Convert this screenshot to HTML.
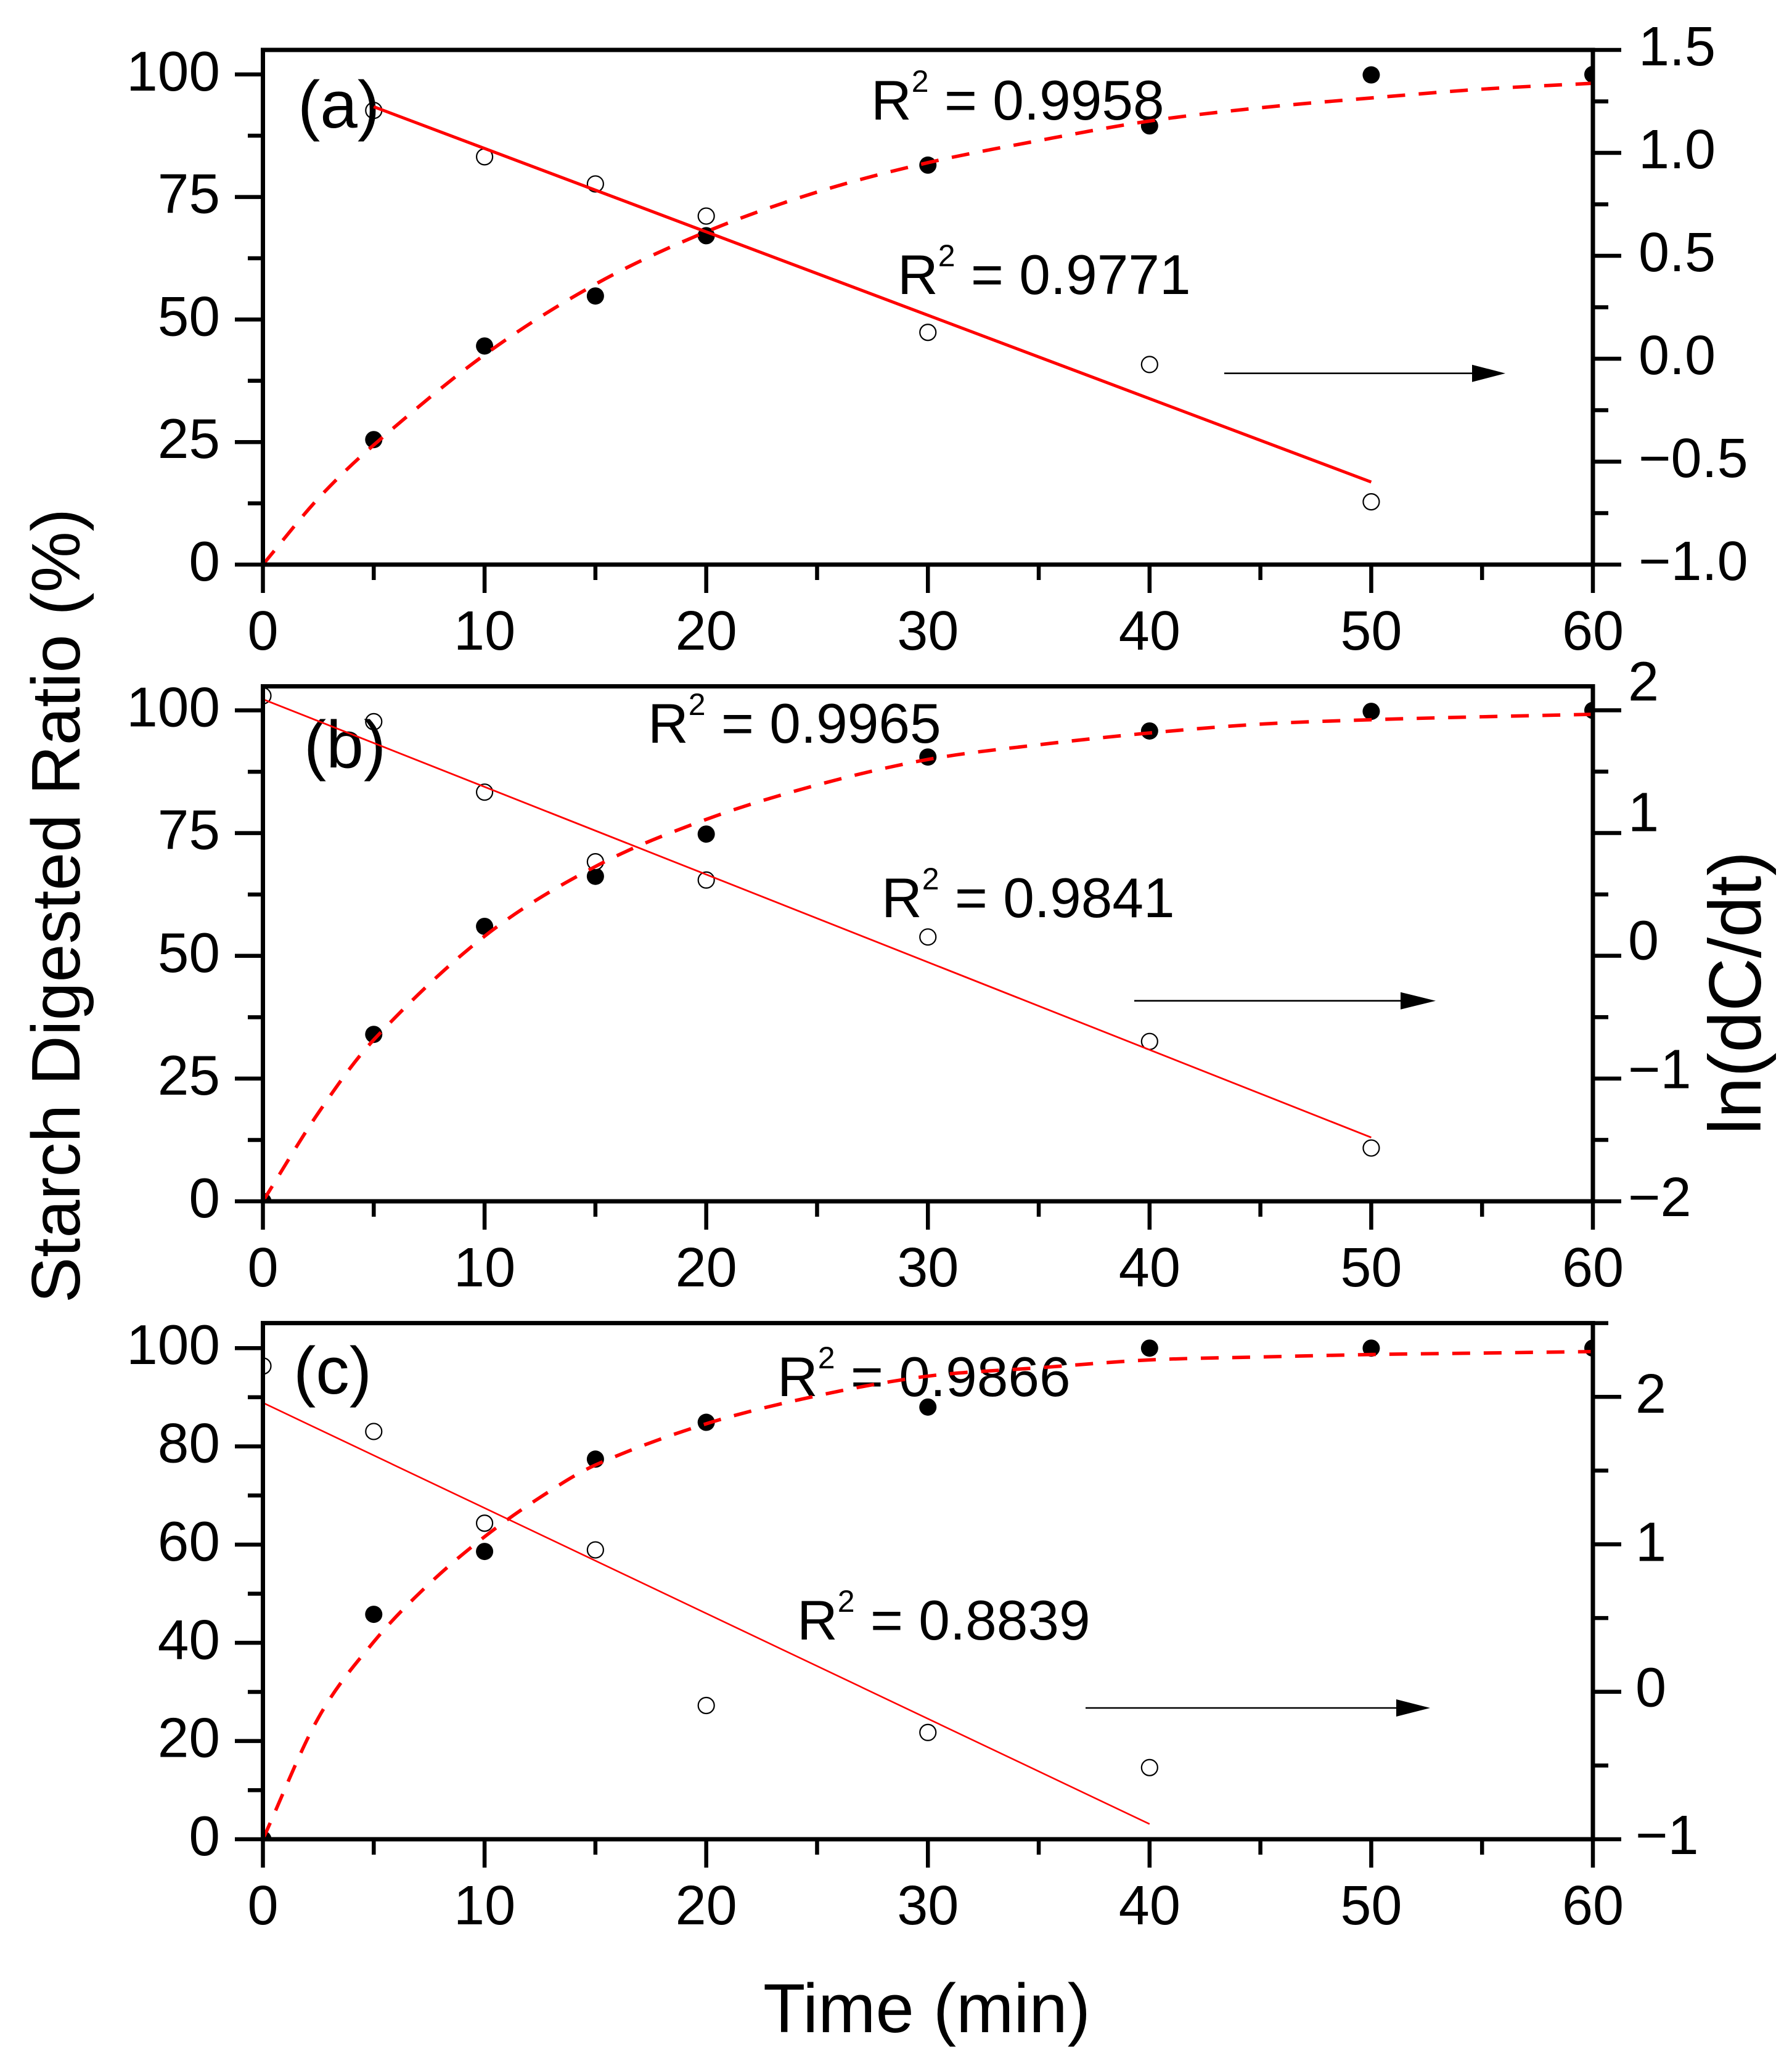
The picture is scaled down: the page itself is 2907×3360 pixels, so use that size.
<!DOCTYPE html>
<html lang="en">
<head>
<meta charset="utf-8">
<title>Starch digestion kinetics</title>
<style>
html,body{margin:0;padding:0;background:#fff;}
svg{display:block;}
text{font-family:"Liberation Sans",Arial,sans-serif;fill:#000;}
</style>
</head>
<body>
<svg id="figure" xmlns="http://www.w3.org/2000/svg" width="2907" height="3360" viewBox="0 0 2907 3360">
  <rect x="0" y="0" width="2907" height="3360" fill="#fff"/>
  <defs>
    <clipPath id="clip-a"><rect x="426" y="80" width="2158" height="836"/></clipPath>
    <clipPath id="clip-b"><rect x="426" y="1113" width="2158" height="836"/></clipPath>
    <clipPath id="clip-c"><rect x="426" y="2146" width="2158" height="838"/></clipPath>
  </defs>
  <g id="panel-a"></g>
  <g id="panel-b"></g>
  <g id="panel-c"></g>
  <text transform="translate(129 2114) rotate(-90)" font-size="111.5">Starch Digested Ratio (%)</text>
  <text transform="translate(2856 1841) rotate(-90)" font-size="120">ln(dC/dt)</text>
  <text x="1238" y="3297" font-size="112">Time (min)</text>
</svg>
<script>
// ---------- shared ticks ----------
const xTickValues = [0, 10, 20, 30, 40, 50, 60];
const xMinorValues = [5, 15, 25, 35, 45, 55];

// ---------- panel (a) ----------
const aDigestedTimes = [5, 10, 15, 20, 30, 40, 50, 60];
const aDigestedValues = [25.5, 44.6, 54.8, 67.1, 81.5, 89.5, 99.9, 100];
const aLnTimes = [5, 10, 15, 20, 30, 40, 50];
const aLnValues = [1.206, 0.981, 0.849, 0.693, 0.128, -0.028, -0.695];
const aFitTimes = [5, 50];
const aFitValues = [1.224, -0.599];
const aCurveTimes = [0, 2.5, 5, 10, 15, 20, 25, 30, 35, 40, 45, 50, 55, 60];
const aCurveValues = [0, 13.5, 24.4, 42.8, 57.2, 67.9, 76, 82, 86.5, 90.5, 93.2, 95.2, 97, 98.2];
const aLeftTicks = [0, 25, 50, 75, 100];
const aLeftMinor = [12.5, 37.5, 62.5, 87.5];
const aRightTicks = [-1, -0.5, 0, 0.5, 1, 1.5];
const aRightLabels = ['\u22121.0', '\u22120.5', '0.0', '0.5', '1.0', '1.5'];
const aRightMinor = [-0.75, -0.25, 0.25, 0.75, 1.25];

// ---------- panel (b) ----------
const bDigestedTimes = [0, 5, 10, 15, 20, 30, 40, 50, 60];
const bDigestedValues = [0, 34, 56, 66.2, 74.8, 90.5, 95.8, 99.8, 100];
const bLnTimes = [0, 5, 10, 15, 20, 30, 40, 50];
const bLnValues = [2.118, 1.907, 1.333, 0.766, 0.617, 0.153, -0.698, -1.566];
const bFitTimes = [0, 50];
const bFitValues = [2.09, -1.48];
const bCurveTimes = [0, 2.5, 5, 10, 15, 20, 25, 30, 35, 40, 45, 50, 55, 60];
const bCurveValues = [0, 18, 32.9, 54, 68.2, 77.8, 84.8, 90, 93, 95.4, 97.2, 98.1, 98.7, 99.2];
const bLeftTicks = [0, 25, 50, 75, 100];
const bLeftMinor = [12.5, 37.5, 62.5, 87.5];
const bRightTicks = [-2, -1, 0, 1, 2];
const bRightLabels = ['\u22122', '\u22121', '0', '1', '2'];
const bRightMinor = [-1.5, -0.5, 0.5, 1.5];

// ---------- panel (c) ----------
const cDigestedTimes = [0, 5, 10, 15, 20, 30, 40, 50, 60];
const cDigestedValues = [0, 45.8, 58.6, 77.4, 84.9, 88, 100, 100, 100];
const cLnTimes = [0, 5, 10, 15, 20, 30, 40];
const cLnValues = [2.209, 1.765, 1.143, 0.962, -0.093, -0.276, -0.514];
const cFitTimes = [0, 40];
const cFitValues = [1.96, -0.897];
const cCurveTimes = [0, 2.5, 5, 7.5, 10, 12.5, 15, 20, 25, 30, 35, 40, 45, 50, 55, 60];
const cCurveValues = [0, 24.7, 40.2, 52, 61.6, 69.6, 76.2, 84.6, 90.3, 94.3, 96, 97.6, 98.2, 98.7, 99, 99.3];
const cLeftTicks = [0, 20, 40, 60, 80, 100];
const cLeftMinor = [10, 30, 50, 70, 90];
const cRightTicks = [-1, 0, 1, 2];
const cRightLabels = ['\u22121', '0', '1', '2'];
const cRightMinor = [-0.5, 0.5, 1.5, 2.5];

// ---------- annotation text ----------
const aFitR2 = '0.9771';
const aCurveR2 = '0.9958';
const bFitR2 = '0.9841';
const bCurveR2 = '0.9965';
const cFitR2 = '0.8839';
const cCurveR2 = '0.9866';

const NS = 'http://www.w3.org/2000/svg';
function make(parent, tag, props) {
  const node = document.createElementNS(NS, tag);
  for (const key in props) node.setAttribute(key, props[key]);
  parent.appendChild(node);
  return node;
}
function linearScale(d0, d1, r0, r1) {
  return function (v) { return r0 + (v - d0) * (r1 - r0) / (d1 - d0); };
}
function splinePath(xs, ys) {
  const n = xs.length;
  const slope = xs.map(function (x, i) {
    const a = Math.max(i - 1, 0), b = Math.min(i + 1, n - 1);
    return (ys[b] - ys[a]) / (xs[b] - xs[a]);
  });
  let d = 'M' + xs[0] + ' ' + ys[0];
  for (let i = 0; i < n - 1; i++) {
    const h = (xs[i + 1] - xs[i]) / 3;
    d += 'C' + (xs[i] + h) + ' ' + (ys[i] + slope[i] * h) + ' ' + (xs[i + 1] - h) + ' ' + (ys[i + 1] - slope[i + 1] * h) + ' ' + xs[i + 1] + ' ' + ys[i + 1];
  }
  return d;
}

function drawPanel(cfg) {
  const g = document.getElementById(cfg.id);
  const L = 426.5, R = 2584, T = cfg.top, B = cfg.bottom;
  const xs = linearScale(0, 60, L, R);
  const yl = linearScale(cfg.leftDomain[0], cfg.leftDomain[1], B, T);
  const yr = linearScale(cfg.rightDomain[0], cfg.rightDomain[1], B, T);

  const marks = make(g, 'g', { 'clip-path': 'url(#' + cfg.clip + ')' });
  
  
  cfg.digestedTimes.forEach(function (t, i) {
    const dot = make(marks, 'circle', { cx: xs(t), cy: yl(cfg.digested[i]), r: 14, fill: '#000' });
    
    
  });
  cfg.lnTimes.forEach(function (t, i) {
    const ring = make(marks, 'circle', { cx: xs(t), cy: yr(cfg.ln[i]), r: 13, fill: '#fff', stroke: '#000', 'stroke-width': 2.2 });
    
    
  });

  function r2Label(x, y, value, name) {
    const t = make(g, 'text', { x: x, y: y, 'font-size': 91 });
    
    
    make(t, 'tspan', {}).textContent = 'R';
    make(t, 'tspan', { dy: -45, 'font-size': 50 }).textContent = '2';
    make(t, 'tspan', { dy: 45 }).textContent = ' = ' + value;
  }
  r2Label(cfg.curveR2Pos[0], cfg.curveR2Pos[1], cfg.curveR2, 'r-squared-curve');
  r2Label(cfg.fitR2Pos[0], cfg.fitR2Pos[1], cfg.fitR2, 'r-squared-fit');
  const tag = make(g, 'text', { x: cfg.tagPos[0], y: cfg.tagPos[1], 'font-size': 109 });
  tag.textContent = cfg.tag;
  
  

  const curve = make(g, 'path', {
    d: splinePath(cfg.curveTimes.map(xs), cfg.curve.map(yl)),
    fill: 'none', stroke: '#ff0000', 'stroke-width': 5.6, 'stroke-dasharray': '29 22', 'clip-path': 'url(#' + cfg.clip + ')'
  });
  
  
  const fit = make(g, 'line', {
    x1: xs(cfg.fitTimes[0]), y1: yr(cfg.fit[0]), x2: xs(cfg.fitTimes[1]), y2: yr(cfg.fit[1]),
    stroke: '#ff0000', 'stroke-width': cfg.fitWidth
  });
  
  

  const arrow = make(g, 'g', {});
  
  
  make(arrow, 'line', { x1: cfg.arrow[0], y1: cfg.arrow[3], x2: cfg.arrow[1], y2: cfg.arrow[3], stroke: '#000', 'stroke-width': 2.6 });
  make(arrow, 'polygon', { points: cfg.arrow[1] + ',' + (cfg.arrow[3] - 14) + ' ' + cfg.arrow[2] + ',' + cfg.arrow[3] + ' ' + cfg.arrow[1] + ',' + (cfg.arrow[3] + 14), fill: '#000' });

  const frame = make(g, 'rect', { x: L, y: T, width: R - L, height: B - T, fill: 'none', stroke: '#000', 'stroke-width': 7 });
  
  

  function tick(x1, y1, x2, y2, name) {
    const ln = make(g, 'line', { x1: x1, y1: y1, x2: x2, y2: y2, stroke: '#000', 'stroke-width': 6.5 });
    
    
  }
  xTickValues.forEach(function (v) {
    tick(xs(v), B, xs(v), B + 46, 'x-tick');
    const lab = make(g, 'text', { x: xs(v), y: B + 138, 'font-size': 90, 'text-anchor': 'middle' });
    lab.textContent = String(v);
    
    
  });
  xMinorValues.forEach(function (v) { tick(xs(v), B, xs(v), B + 25, 'x-minor-tick'); });
  cfg.leftTicks.forEach(function (v) {
    tick(L, yl(v), 381, yl(v), 'left-tick');
    const lab = make(g, 'text', { x: 357, y: yl(v) + 26, 'font-size': 91, 'text-anchor': 'end' });
    lab.textContent = String(v);
    
    
  });
  cfg.leftMinor.forEach(function (v) { tick(L, yl(v), 402, yl(v), 'left-minor-tick'); });
  cfg.rightTicks.forEach(function (v, i) {
    tick(R, yr(v), R + 46, yr(v), 'right-tick');
    const lab = make(g, 'text', { x: cfg.rightLabelX, y: yr(v) + cfg.rightLabelDy[i], 'font-size': 90 });
    lab.textContent = cfg.rightLabels[i];
    
    
  });
  cfg.rightMinor.forEach(function (v) { tick(R, yr(v), R + 25, yr(v), 'right-minor-tick'); });
}

drawPanel({
  id: 'panel-a', clip: 'clip-a', tag: '(a)', top: 81, bottom: 916, fitWidth: 5,
  leftDomain: [0, 105], rightDomain: [-1, 1.5],
  digestedTimes: aDigestedTimes, digested: aDigestedValues, lnTimes: aLnTimes, ln: aLnValues,
  fitTimes: aFitTimes, fit: aFitValues, curveTimes: aCurveTimes, curve: aCurveValues,
  leftTicks: aLeftTicks, leftMinor: aLeftMinor, rightTicks: aRightTicks, rightLabels: aRightLabels, rightMinor: aRightMinor,
  curveR2: aCurveR2, fitR2: aFitR2,
  rightLabelX: 2658, rightLabelDy: [25, 25, 25, 25, 25, 25],
  curveR2Pos: [1413, 194], fitR2Pos: [1456, 477], tagPos: [483, 207], arrow: [1986, 2388, 2442, 605.7]
});
drawPanel({
  id: 'panel-b', clip: 'clip-b', tag: '(b)', top: 1113.5, bottom: 1949, fitWidth: 2.8,
  leftDomain: [0, 104.9], rightDomain: [-2, 2.195],
  digestedTimes: bDigestedTimes, digested: bDigestedValues, lnTimes: bLnTimes, ln: bLnValues,
  fitTimes: bFitTimes, fit: bFitValues, curveTimes: bCurveTimes, curve: bCurveValues,
  leftTicks: bLeftTicks, leftMinor: bLeftMinor, rightTicks: bRightTicks, rightLabels: bRightLabels, rightMinor: bRightMinor,
  curveR2: bCurveR2, fitR2: bFitR2,
  rightLabelX: 2641, rightLabelDy: [24, 15.5, 6, -3, -16],
  curveR2Pos: [1051, 1205], fitR2Pos: [1430, 1488], tagPos: [493, 1245], arrow: [1840, 2272, 2329, 1623.7]
});
drawPanel({
  id: 'panel-c', clip: 'clip-c', tag: '(c)', top: 2146.6, bottom: 2984, fitWidth: 2.6,
  leftDomain: [0, 105.1], rightDomain: [-1, 2.5],
  digestedTimes: cDigestedTimes, digested: cDigestedValues, lnTimes: cLnTimes, ln: cLnValues,
  fitTimes: cFitTimes, fit: cFitValues, curveTimes: cCurveTimes, curve: cCurveValues,
  leftTicks: cLeftTicks, leftMinor: cLeftMinor, rightTicks: cRightTicks, rightLabels: cRightLabels, rightMinor: cRightMinor,
  curveR2: cCurveR2, fitR2: cFitR2,
  rightLabelX: 2653, rightLabelDy: [24, 24, 27, 26],
  curveR2Pos: [1261, 2265], fitR2Pos: [1293, 2660], tagPos: [476, 2261], arrow: [1761, 2265, 2320, 2771]
});
</script>
</body>
</html>
